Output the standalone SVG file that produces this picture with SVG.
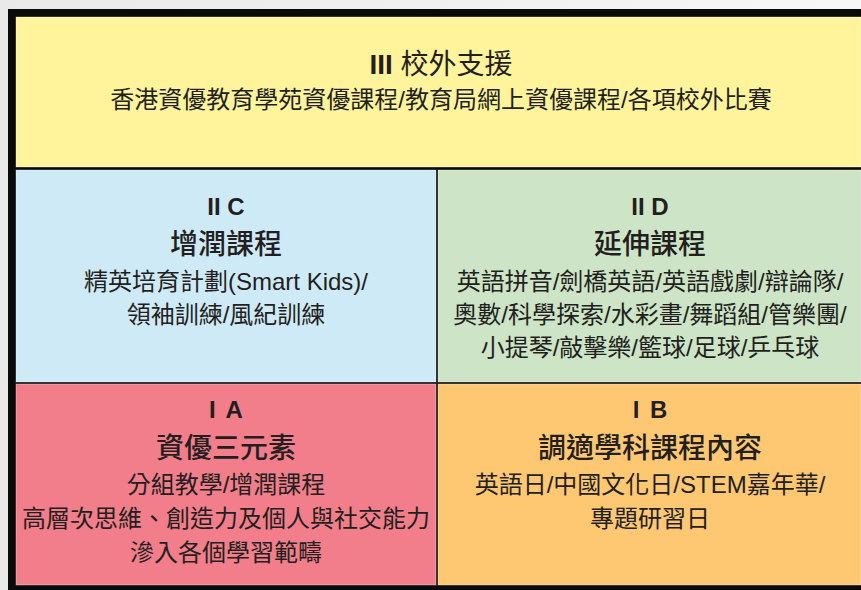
<svg xmlns="http://www.w3.org/2000/svg" width="861" height="590" viewBox="0 0 861 590">
<defs>
<linearGradient id="bg" x1="0" y1="0" x2="1" y2="0">
<stop offset="0" stop-color="#e9e9e9"/>
<stop offset="1" stop-color="#f7f7f7"/>
</linearGradient>
</defs>
<style>
text{font-family:"Liberation Sans","Noto Sans CJK TC","Noto Sans CJK SC",sans-serif;fill:#231f20;text-anchor:middle}
.id{font-size:24px;font-weight:bold}
.h{font-size:28px;font-weight:500}
.b{font-size:24px}
.cell{stroke:#ffffff;stroke-opacity:0.35;stroke-width:1}
</style>
<rect x="0" y="0" width="861" height="590" fill="url(#bg)"/>
<rect x="8" y="9" width="853" height="581" fill="#0a0a0a"/>
<g id="connectors"/>
<g id="III">
<rect class="cell" x="16" y="17" width="845" height="150" fill="#fff49c"/>
<text x="441" y="74" style="font-size:28px"><tspan font-weight="bold" style="font-size:28px">III</tspan> 校外支援</text>
<text class="b" x="441" y="108">香港資優教育學苑資優課程/教育局網上資優課程/各項校外比賽</text>
</g>
<g id="IIC">
<rect class="cell" x="16" y="170" width="420" height="212" fill="#cfeaf7"/>
<text class="id" x="226" y="215">II C</text>
<text class="h" x="226" y="254">增潤課程</text>
<text class="b" x="226" y="290">精英培育計劃(Smart Kids)/</text>
<text class="b" x="226" y="323">領袖訓練/風紀訓練</text>
</g>
<g id="IID">
<rect class="cell" x="438" y="170" width="423" height="212" fill="#cde4c6"/>
<text class="id" x="650" y="215">II D</text>
<text class="h" x="650" y="254">延伸課程</text>
<text class="b" x="650" y="290">英語拼音/劍橋英語/英語戲劇/辯論隊/</text>
<text class="b" x="650" y="323">奧數/科學探索/水彩畫/舞蹈組/管樂團/</text>
<text class="b" x="650" y="356">小提琴/敲擊樂/籃球/足球/乒乓球</text>
</g>
<g id="IA">
<rect class="cell" x="16" y="384" width="420" height="201" fill="#f17e8a"/>
<text class="id" x="227" y="418" style="letter-spacing:2px">I A</text>
<text class="h" x="226" y="458">資優三元素</text>
<text class="b" x="226" y="493">分組教學/增潤課程</text>
<text class="b" x="226" y="527">高層次思維、創造力及個人與社交能力</text>
<text class="b" x="226" y="561">滲入各個學習範疇</text>
</g>
<g id="IB">
<rect class="cell" x="438" y="384" width="423" height="201" fill="#fec872"/>
<text class="id" x="651" y="418" style="letter-spacing:2px">I B</text>
<text class="h" x="650" y="458">調適學科課程內容</text>
<text class="b" x="650" y="493">英語日/中國文化日/STEM嘉年華/</text>
<text class="b" x="650" y="527">專題研習日</text>
</g>
</svg>
